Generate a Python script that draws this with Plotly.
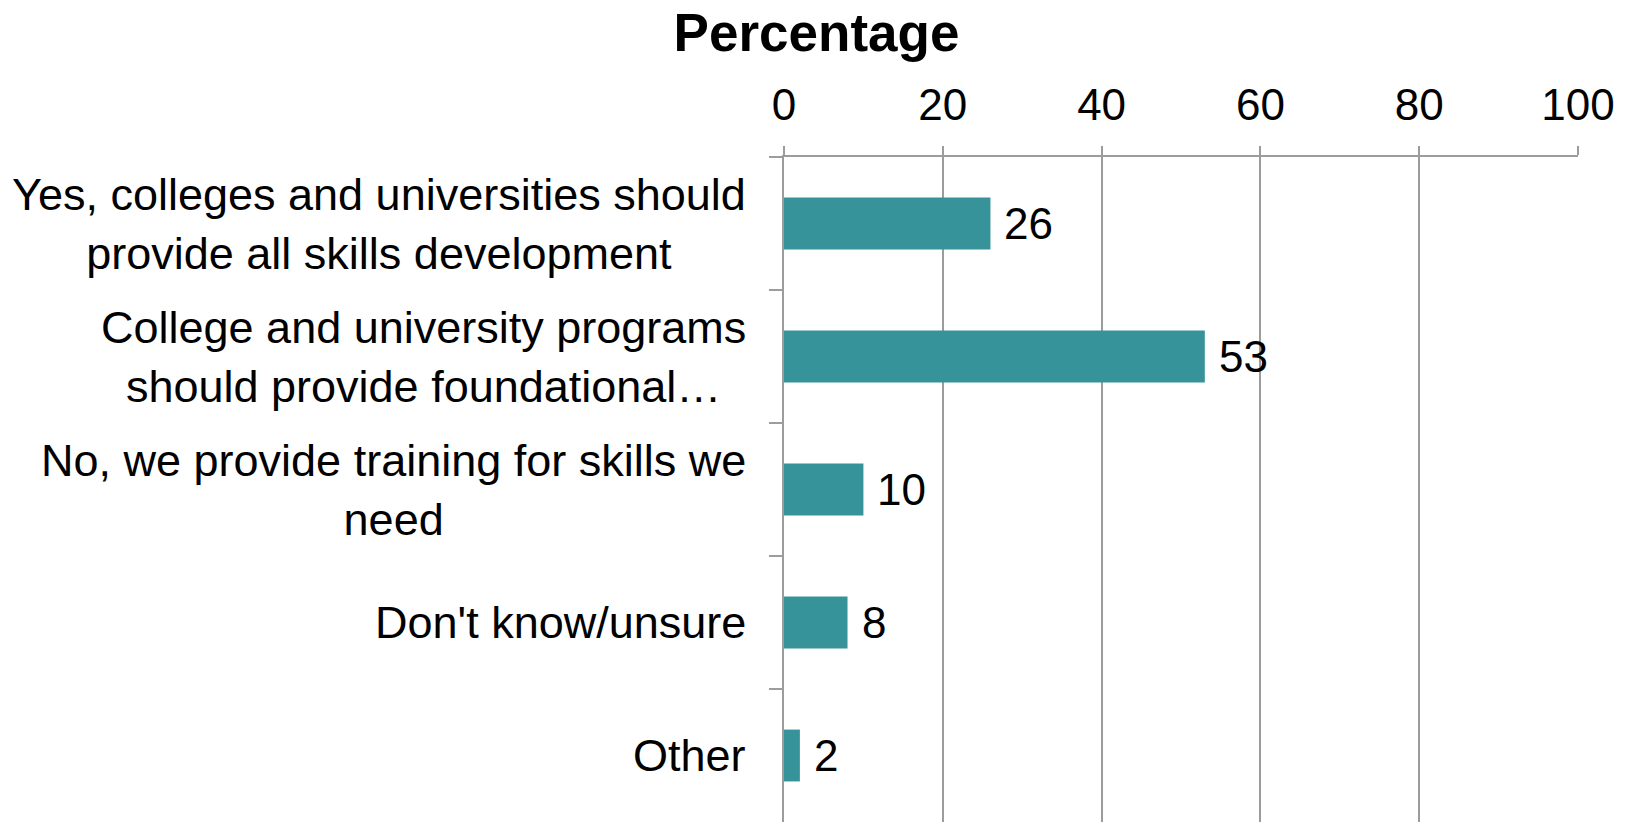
import plotly.graph_objects as go

# Survey responses (percent of respondents)
categories = [
    "Yes, colleges and universities should<br>provide all skills development",
    "College and university programs<br>should provide foundational…",
    "No, we provide training for skills we<br>need",
    "Don't know/unsure",
    "Other",
]
percentages = [26, 53, 10, 8, 2]
x_ticks = [0, 20, 40, 60, 80, 100]

BAR_COLOR = "#36939A"
GRID_COLOR = "#9C9C9C"
FONT = "Liberation Sans, Arial, sans-serif"

fig = go.Figure(
    go.Bar(
        x=percentages,
        y=categories,
        orientation="h",
        marker=dict(color=BAR_COLOR, line=dict(width=0)),
        width=0.39,
        hoverinfo="x+y",
    )
)

# value labels just past the end of each bar
for cat, val in zip(categories, percentages):
    fig.add_annotation(
        x=val, y=cat, xref="x", yref="y",
        text=str(val), showarrow=False,
        xanchor="left", yanchor="middle", xshift=12,
        font=dict(family=FONT, size=44, color="black"),
    )

# category labels: block right-aligned to the axis, lines centred within it
for cat in categories:
    fig.add_annotation(
        x=0, y=cat, xref="paper", yref="y",
        text=cat, showarrow=False,
        xanchor="right", yanchor="middle", align="center", xshift=-36,
        font=dict(family=FONT, size=45, color="black"),
    )

fig.update_layout(
    width=1633,
    height=822,
    margin=dict(l=784, r=55, t=157, b=0, pad=0),
    paper_bgcolor="white",
    plot_bgcolor="white",
    showlegend=False,
    font=dict(family=FONT, size=44, color="black"),
    title=dict(
        text="<b>Percentage</b>",
        x=0.5, xref="container", xanchor="center", pad=dict(l=10),
        y=1 - 32 / 822, yref="container", yanchor="middle",
        font=dict(family=FONT, size=53, color="black"),
    ),
    xaxis=dict(
        side="top",
        range=[0, 100],
        tickvals=x_ticks,
        ticktext=[str(v) for v in x_ticks],
        showgrid=True,
        gridcolor=GRID_COLOR,
        gridwidth=1.5,
        showline=True,
        linecolor=GRID_COLOR,
        linewidth=1.5,
        ticks="outside",
        ticklen=9,
        tickwidth=1.5,
        tickcolor=GRID_COLOR,
        zeroline=False,
        ticklabelstandoff=9,
        tickfont=dict(family=FONT, size=44, color="black"),
        fixedrange=True,
    ),
    yaxis=dict(
        autorange="reversed",
        showline=True,
        linecolor=GRID_COLOR,
        linewidth=1.5,
        ticks="outside",
        tickson="boundaries",
        ticklen=13,
        tickwidth=1.5,
        tickcolor=GRID_COLOR,
        showgrid=False,
        showticklabels=False,
        zeroline=False,
        fixedrange=True,
    ),
)

fig.write_html("out.html", include_plotlyjs=True, config={"displayModeBar": False})
